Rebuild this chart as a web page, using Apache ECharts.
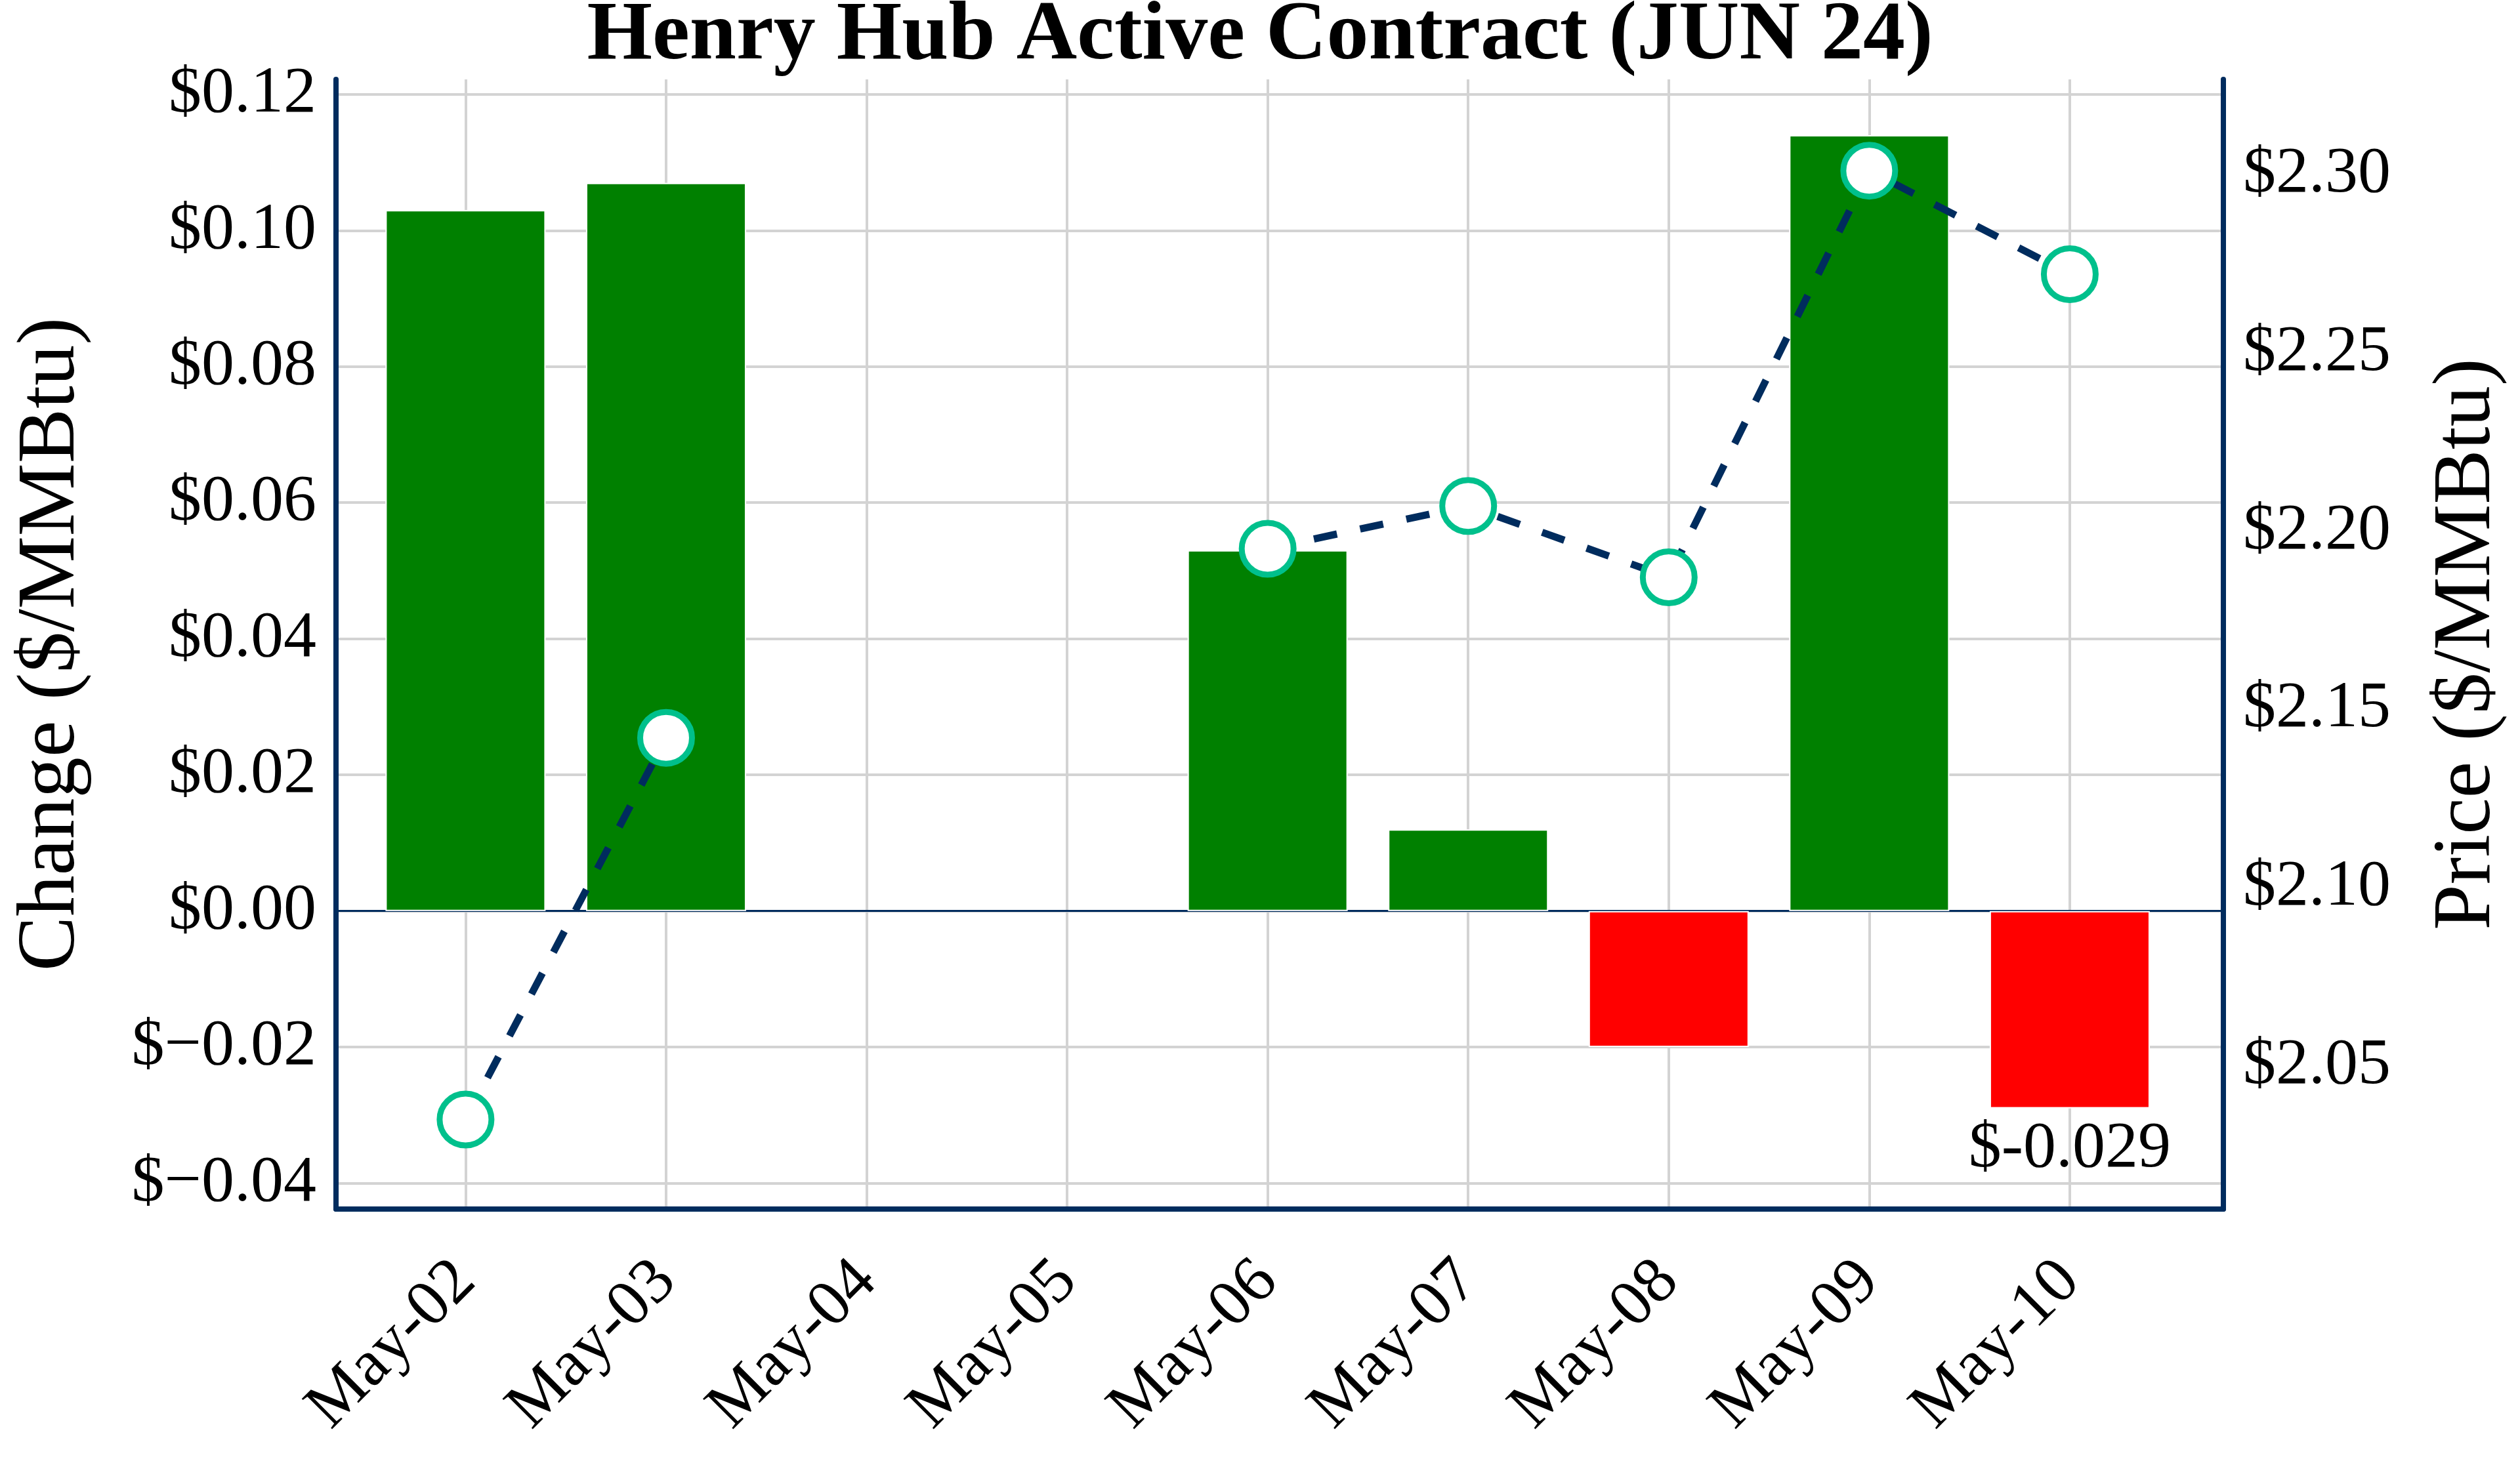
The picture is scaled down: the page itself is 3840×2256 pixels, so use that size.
<!DOCTYPE html>
<html>
<head>
<meta charset="utf-8">
<script src="https://cdn.jsdelivr.net/npm/echarts@6/dist/echarts.min.js"></script>
<style>
html,body{margin:0;padding:0;background:#fff;}
#chart{width:3840px;height:2256px;}
</style>
</head>
<body>
<div id="chart"></div>
<script>
const categories = ['May-02','May-03','May-04','May-05','May-06','May-07','May-08','May-09','May-10'];
const changeValues = [0.103, 0.107, null, null, 0.053, 0.012, -0.020, 0.114, -0.029];
const priceValues = [2.035, 2.142, null, null, 2.195, 2.207, 2.187, 2.301, 2.272];
const changeTicks = [-0.04, -0.02, 0.00, 0.02, 0.04, 0.06, 0.08, 0.10, 0.12];
const priceTicks = [2.05, 2.10, 2.15, 2.20, 2.25, 2.30];
const titleText = 'Henry Hub Active Contract (JUN 24)';
const leftAxisName = 'Change ($/MMBtu)';
const rightAxisName = 'Price ($/MMBtu)';

const FONT = '"Liberation Serif", "Times New Roman", serif';
const NAVY = '#002c5e';
const GREEN = '#008000';
const RED = '#ff0000';
const TEAL = '#00c08c';
const GRID = '#d3d3d3';
const catIdx = categories.map((c, i) => i);
const lastIdx = changeValues.length - 1;

const barData = [];
changeValues.forEach((v, i) => {
  if (v === null) return;
  const item = { value: [i, v], itemStyle: { color: v >= 0 ? GREEN : RED } };
  if (i === lastIdx) {
    item.label = {
      show: true, position: 'bottom', distance: 12,
      fontFamily: FONT, fontSize: 100, color: '#000',
      formatter: p => '$' + p.value[1].toFixed(3)
    };
  }
  barData.push(item);
});
const lineData = priceValues.map((v, i) => [i, v === null ? '-' : v]);

const fmtChange = v => (v < 0 ? '$\u2212' : '$') + Math.abs(v).toFixed(2);
const fmtPrice = v => '$' + v.toFixed(2);

const chart = echarts.init(document.getElementById('chart'), null, { renderer: 'canvas' });
chart.setOption({
  backgroundColor: '#fff',
  animation: false,
  title: {
    text: titleText, left: 'center', top: -13,
    textStyle: { fontFamily: FONT, fontSize: 128, fontWeight: 'bold', color: '#000' }
  },
  grid: { left: 512, right: 452, top: 121, bottom: 413, containLabel: false },
  xAxis: [{
    type: 'value', min: -0.646, max: 8.766,
    axisLine: { show: true, onZero: false, lineStyle: { color: NAVY, width: 8 } },
    axisTick: { show: false, customValues: catIdx },
    splitLine: { show: true, lineStyle: { color: GRID, width: 4 } },
    axisLabel: {
      customValues: catIdx, rotate: 45, margin: 95,
      fontFamily: FONT, fontSize: 100, color: '#000',
      formatter: v => categories[Math.round(v)]
    }
  }, {
    type: 'value', min: -0.646, max: 8.766, position: 'bottom',
    axisLine: { show: true, onZero: true, onZeroAxisIndex: 0, lineStyle: { color: NAVY, width: 3 } },
    axisTick: { show: false }, axisLabel: { show: false }, splitLine: { show: false }
  }],
  yAxis: [{
    type: 'value', min: -0.0438, max: 0.1222, position: 'left',
    name: leftAxisName, nameLocation: 'middle', nameRotate: 90, nameGap: 370,
    nameTextStyle: { fontFamily: FONT, fontSize: 125, color: '#000' },
    axisLine: { show: true, onZero: false, lineStyle: { color: NAVY, width: 8 } },
    axisTick: { show: false, customValues: changeTicks },
    splitLine: { show: true, lineStyle: { color: GRID, width: 4 } },
    axisLabel: { customValues: changeTicks, margin: 30, fontFamily: FONT, fontSize: 100, color: '#000', formatter: fmtChange }
  }, {
    type: 'value', min: 2.0099, max: 2.3266, position: 'right',
    name: rightAxisName, nameLocation: 'middle', nameRotate: 90, nameGap: 310,
    nameTextStyle: { fontFamily: FONT, fontSize: 125, color: '#000' },
    axisLine: { show: true, onZero: false, lineStyle: { color: NAVY, width: 8 } },
    axisTick: { show: false, customValues: priceTicks },
    splitLine: { show: false },
    axisLabel: { customValues: priceTicks, margin: 30, fontFamily: FONT, fontSize: 100, color: '#000', formatter: fmtPrice }
  }],
  series: [{
    type: 'bar', xAxisIndex: 0, yAxisIndex: 0, barWidth: 244,
    itemStyle: { borderColor: '#fff', borderWidth: 2 },
    data: barData
  }, {
    type: 'line', xAxisIndex: 0, yAxisIndex: 1,
    connectNulls: false, showAllSymbol: true,
    symbol: 'circle', symbolSize: 79,
    itemStyle: { color: '#fff', borderColor: TEAL, borderWidth: 9 },
    lineStyle: { color: NAVY, width: 11, type: [36, 36] },
    data: lineData, z: 5
  }]
});
</script>
</body>
</html>
